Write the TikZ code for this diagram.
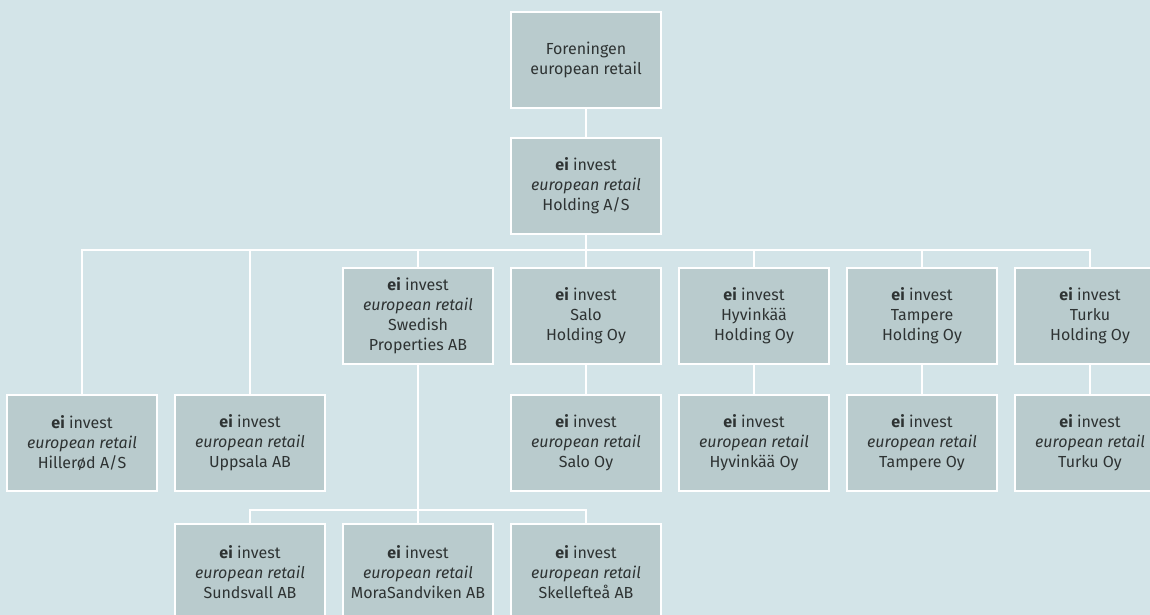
\documentclass[tikz,border=0pt]{standalone}
\usepackage{fontspec}
\setmainfont{Fira Sans}
\usepackage{tikz}
\definecolor{bgblue}{HTML}{D3E4E8}
\definecolor{boxgray}{HTML}{B9CBCD}
\definecolor{txtgray}{HTML}{2E3333}
\begin{document}
\begin{tikzpicture}[x=1pt,y=1pt]
\tikzstyle{box}=[draw=white,line width=2.6pt,fill=boxgray,minimum width=150pt,minimum height=96pt,inner sep=0pt,align=center,text=txtgray,font=\fontsize{16}{20}\selectfont]
\tikzstyle{link}=[draw=white,line width=2.6pt]
\path [use as bounding box,fill=bgblue] (0,0) rectangle (1150,-615);
\clip (0,0) rectangle (1150,-615);
\node [box] (fore) at (586,-60) {Foreningen\\european retail};
\node [box] (hold) at (586,-186) {\textbf{ei} invest\\\textit{european retail}\\Holding A/S};
\node [box] (swe) at (418,-316) {\textbf{ei} invest\\\textit{european retail}\\Swedish\\Properties AB};
\node [box] (salo) at (586,-316) {\textbf{ei} invest\\Salo\\Holding Oy};
\node [box] (hyv) at (754,-316) {\textbf{ei} invest\\Hyvinkää\\Holding Oy};
\node [box] (tam) at (922,-316) {\textbf{ei} invest\\Tampere\\Holding Oy};
\node [box] (tur) at (1090,-316) {\textbf{ei} invest\\Turku\\Holding Oy};
\node [box] (hill) at (82,-443) {\textbf{ei} invest\\\textit{european retail}\\Hillerød A/S};
\node [box] (upps) at (250,-443) {\textbf{ei} invest\\\textit{european retail}\\Uppsala AB};
\node [box] (salooy) at (586,-443) {\textbf{ei} invest\\\textit{european retail}\\Salo Oy};
\node [box] (hyvoy) at (754,-443) {\textbf{ei} invest\\\textit{european retail}\\Hyvinkää Oy};
\node [box] (tamoy) at (922,-443) {\textbf{ei} invest\\\textit{european retail}\\Tampere Oy};
\node [box] (turoy) at (1090,-443) {\textbf{ei} invest\\\textit{european retail}\\Turku Oy};
\node [box] (sund) at (250,-572) {\textbf{ei} invest\\\textit{european retail}\\Sundsvall AB};
\node [box] (mora) at (418,-572) {\textbf{ei} invest\\\textit{european retail}\\MoraSandviken AB};
\node [box] (skel) at (586,-572) {\textbf{ei} invest\\\textit{european retail}\\Skellefteå AB};
\coordinate (bus) at (586,-250);
\coordinate (sbus) at (418,-510);
\draw [link] (fore) -- (hold);
\draw [link] (hold) -- (bus);
\foreach \c in {hill,upps,swe,salo,hyv,tam,tur}
  \draw [link] (bus) -| (\c.north);
\draw [link] (salo) -- (salooy);
\draw [link] (hyv) -- (hyvoy);
\draw [link] (tam) -- (tamoy);
\draw [link] (tur) -- (turoy);
\draw [link] (swe) -- (sbus);
\foreach \c in {sund,mora,skel}
  \draw [link] (sbus) -| (\c.north);
\end{tikzpicture}
\end{document}
